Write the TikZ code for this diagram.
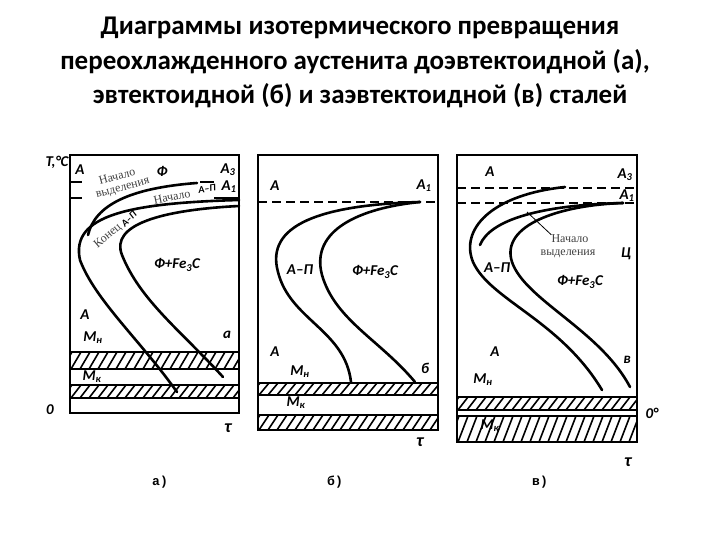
\documentclass[tikz,border=0pt]{standalone}
\usepackage{fontspec}
\setmainfont{Carlito}
\setsansfont{Carlito}
\setmonofont{Liberation Mono}
\newfontfamily\serifru{Liberation Serif}
\newcommand{\myhatch}[4]{%
 \begin{scope}\clip (#1,#2) rectangle (#3,#4);
 \foreach \i in {0,...,21} {\draw[line width=1.6pt] (#1+\i*9-8,#4) -- (#1+\i*9+2,#2);}
 \end{scope}\draw[line width=1.4pt] (#1,#2) -- (#3,#2) (#1,#4) -- (#3,#4);}
\begin{document}
\begin{tikzpicture}[x=1pt,y=-1pt,
 lab/.style={font=\sffamily\bfseries\itshape\fontsize{15}{15}\selectfont,inner sep=0pt},
 ru/.style={font=\serifru\fontsize{12}{12}\selectfont,inner sep=0pt,text=black!75},
 curve/.style={line width=2.6pt,line cap=round},
 frame/.style={line width=2.2pt},
 ttl/.style={font=\bfseries\fontsize{27}{27}\selectfont},
 dsh/.style={line width=1.8pt,dash pattern=on 9pt off 5pt}]
\useasboundingbox (0,0) rectangle (720,540);
\node[ttl] (t1) at (360,28) {Диаграммы изотермического превращения};
\node[ttl] (t2) at (355,62) {переохлажденного аустенита доэвтектоидной (а),};
\node[ttl] (t3) at (360,96) {эвтектоидной (б) и заэвтектоидной (в) сталей};
% ---------- panel a
\draw[frame] (70,155) rectangle (239,413);
\myhatch{70}{352}{239}{369}
\myhatch{70}{385}{239}{398}
\draw[line width=1.6pt] (70,182) -- (82,182) (70,198) -- (82,198) (200,182)--(214,182) (214,198)--(239,198);
\draw[curve] (239,200) .. controls (130,203) and (70,215) .. (80,260) .. controls (95,300) and (140,340) .. (177,392);
\draw[curve] (197,183) .. controls (130,188) and (95,205) .. (88,235);
\draw[curve] (239,206) .. controls (160,210) and (110,225) .. (122,255) .. controls (140,300) and (180,330) .. (223,377);
\node[lab] (ta) at (57,162) {T,°C};
\node[lab] (a1) at (80,170) {A};
\node[lab] (f1) at (162,171) {Ф};
\node[lab] (a3) at (228,170) {A\textsubscript{3}};
\node[lab] (aa1) at (229,187) {A\textsubscript{1}};
\node[ru,rotate=15] (n1) at (117,176) {Начало};
\node[ru,rotate=15] (n2) at (123,189) {выделения};
\node[ru,rotate=12] (n3) at (172,197) {Начало};
\node[lab,font=\sffamily\bfseries\itshape\fontsize{10}{10}\selectfont,rotate=8] (ap) at (207,189) {A–П};
\node[ru,rotate=40] (k1) at (108,236) {Конец};
\node[lab,font=\sffamily\bfseries\itshape\fontsize{10}{10}\selectfont,rotate=45] (ap2) at (129,219) {A–П};
\node[lab] (fe1) at (177,265) {Ф+Fe\textsubscript{3}C};
\node[lab] (a4) at (85,315) {A};
\node[lab] (mn1) at (93,338) {M\textsubscript{н}};
\node[lab] (la) at (227,335) {a};
\node[lab] (mk1) at (92,377) {M\textsubscript{к}};
\node[lab] (z1) at (50,410) {0};
\node[lab,font=\sffamily\bfseries\itshape\fontsize{18}{18}\selectfont] (tau1) at (228,428) {τ};
% ---------- panel b
\draw[frame] (258,155) rectangle (438,430);
\draw[dsh] (258,202) -- (438,202);
\myhatch{258}{383}{438}{395}
\myhatch{258}{415}{438}{430}
\draw[curve] (420,202) .. controls (320,205) and (265,225) .. (278,272) .. controls (290,320) and (345,330) .. (351,382);
\draw[curve] (420,202) .. controls (360,208) and (310,230) .. (322,275) .. controls (335,320) and (380,340) .. (415,382);
\node[lab] (b1) at (275,186) {A};
\node[lab] (b2) at (424,186) {A\textsubscript{1}};
\node[lab] (b3) at (300,270) {A–П};
\node[lab] (b4) at (375,272) {Ф+Fe\textsubscript{3}C};
\node[lab] (b5) at (275,352) {A};
\node[lab] (b6) at (300,372) {M\textsubscript{н}};
\node[lab] (b7) at (425,368) {б};
\node[lab] (b8) at (296,403) {M\textsubscript{к}};
\node[lab,font=\sffamily\bfseries\itshape\fontsize{18}{18}\selectfont] (b9) at (420,442) {τ};
% ---------- panel c
\draw[frame] (457,155) rectangle (637,442);
\draw[dsh] (457,188) -- (637,188);
\draw[dsh] (457,203) -- (637,203);
\myhatch{457}{397}{637}{410}
\myhatch{457}{416}{637}{442}
\draw[curve] (565,187) .. controls (490,195) and (460,230) .. (473,262) .. controls (490,300) and (560,320) .. (602,390);
\draw[curve] (623,203) .. controls (540,205) and (490,220) .. (480,245);
\draw[curve] (623,203) .. controls (560,205) and (500,225) .. (512,262) .. controls (525,300) and (600,330) .. (630,387);
\coordinate (ld) at (527,212);
\node[ru] (c1) at (570,239) {Начало};
\node[ru] (c2) at (568,254) {выделения};
\draw[line width=0.8pt] (c1.north west) -- (ld);
\node[lab] (c3) at (626,254) {Ц};
\node[lab] (c0) at (490,172) {A};
\node[lab] (c4) at (625,175) {A\textsubscript{3}};
\node[lab] (c5) at (627,196) {A\textsubscript{1}};
\node[lab] (c6) at (497,268) {A–П};
\node[lab] (c7) at (580,282) {Ф+Fe\textsubscript{3}C};
\node[lab] (c8) at (495,352) {A};
\node[lab] (c9) at (483,380) {M\textsubscript{н}};
\node[lab] (c10) at (627,360) {в};
\node[lab] (c11) at (652,413) {0°};
\node[lab] (c12) at (490,426) {M\textsubscript{к}};
\node[lab,font=\sffamily\bfseries\itshape\fontsize{18}{18}\selectfont] (c13) at (628,462) {τ};
% captions
\node[font=\ttfamily\bfseries\fontsize{13}{13}\selectfont] (ca) at (160,482) {а)};
\node[font=\ttfamily\bfseries\fontsize{13}{13}\selectfont] (cb) at (335,482) {б)};
\node[font=\ttfamily\bfseries\fontsize{13}{13}\selectfont] (cc) at (540,482) {в)};
\end{tikzpicture}
\end{document}
